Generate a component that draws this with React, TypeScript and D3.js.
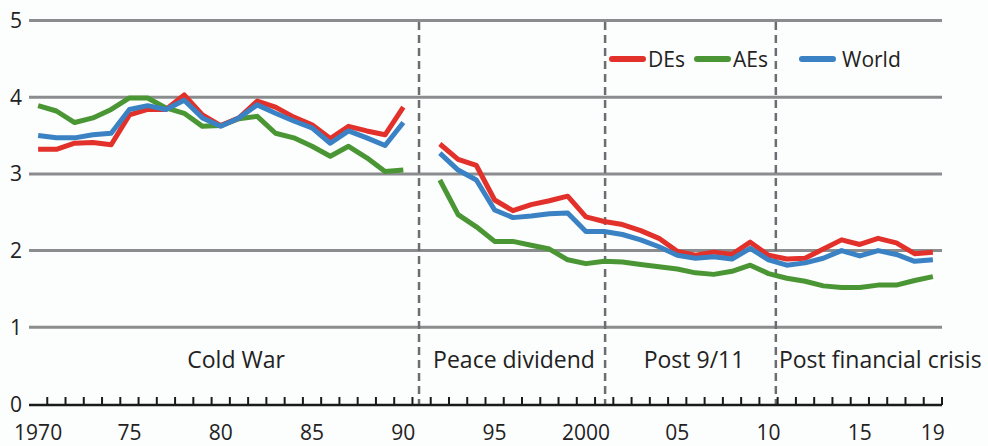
import React, { useEffect, useRef } from 'react';
import * as d3 from 'd3';

const W = 988;
const H = 446;

const YEARS = d3.range(1970, 2020);

// null = no data (1991)
const DES = [
  3.32, 3.32, 3.40, 3.41, 3.38, 3.77, 3.84, 3.84, 4.03, 3.77,
  3.63, 3.73, 3.95, 3.87, 3.74, 3.64, 3.46, 3.62, 3.56, 3.51,
  3.87, null, 3.39, 3.19, 3.11, 2.66, 2.52, 2.60, 2.65, 2.71,
  2.44, 2.38, 2.34, 2.26, 2.16, 1.99, 1.94, 1.98, 1.95, 2.11,
  1.94, 1.89, 1.90, 2.02, 2.14, 2.08, 2.16, 2.10, 1.96, 1.98,
];
const AES = [
  3.89, 3.82, 3.67, 3.73, 3.84, 3.99, 3.99, 3.86, 3.79, 3.62,
  3.63, 3.72, 3.75, 3.53, 3.47, 3.36, 3.23, 3.36, 3.21, 3.03,
  3.05, null, 2.92, 2.47, 2.31, 2.12, 2.12, 2.07, 2.02, 1.88,
  1.83, 1.86, 1.85, 1.82, 1.79, 1.76, 1.71, 1.69, 1.73, 1.81,
  1.70, 1.64, 1.60, 1.54, 1.52, 1.52, 1.55, 1.55, 1.61, 1.66,
];
const WORLD = [
  3.50, 3.47, 3.47, 3.51, 3.53, 3.84, 3.89, 3.84, 3.96, 3.73,
  3.62, 3.73, 3.90, 3.79, 3.69, 3.60, 3.40, 3.56, 3.47, 3.37,
  3.67, null, 3.27, 3.05, 2.92, 2.53, 2.43, 2.45, 2.48, 2.49,
  2.25, 2.25, 2.21, 2.14, 2.05, 1.94, 1.90, 1.92, 1.89, 2.03,
  1.88, 1.81, 1.84, 1.90, 2.00, 1.93, 2.00, 1.95, 1.86, 1.88,
];

const SERIES = [
  { name: 'DEs', values: DES, color: '#e2302a' },
  { name: 'AEs', values: AES, color: '#4b9634' },
  { name: 'World', values: WORLD, color: '#3a82c3' },
];
// drawing order: AEs under, then DEs, World on top
const DRAW_ORDER = ['AEs', 'DEs', 'World'];

const Y_TICKS = [0, 1, 2, 3, 4, 5];
const X_LABELS: [number, string][] = [
  [1970, '1970'], [1975, '75'], [1980, '80'], [1985, '85'], [1990, '90'],
  [1995, '95'], [2000, '2000'], [2005, '05'], [2010, '10'], [2015, '15'], [2019, '19'],
];

// period dividers (fractional year positions) and labels
const DIVIDERS = [1990.86, 2001.05, 2010.4];
const PERIODS: [string, number][] = [
  ['Cold War', 1980.84],
  ['Peace dividend', 1996.06],
  ['Post 9/11', 2005.92],
  ['Post financial crisis', 2016.12],
];

const FONT = '"Open Sans", "DejaVu Sans", sans-serif';

const App: React.FC = () => {
  const svgRef = useRef<SVGSVGElement | null>(null);

  useEffect(() => {
    if (!svgRef.current) return;
    const svg = d3.select(svgRef.current);
    svg.selectAll('*').remove();

    const left = 29;
    const right = 942;
    const band = (right - left) / YEARS.length;

    // year -> center of its band
    const x = d3
      .scaleLinear()
      .domain([1970, 2019])
      .range([left + band / 2, right - band / 2]);
    const y = d3.scaleLinear().domain([0, 5]).range([404, 20.5]);

    svg.append('rect').attr('width', W).attr('height', H).attr('fill', '#fcfdfd');

    // gridlines
    svg
      .append('g')
      .selectAll('line')
      .data(Y_TICKS.filter((d) => d > 0))
      .join('line')
      .attr('x1', left)
      .attr('x2', right)
      .attr('y1', (d) => y(d))
      .attr('y2', (d) => y(d))
      .attr('stroke', '#8a8c8e')
      .attr('stroke-width', 3);

    // y labels
    svg
      .append('g')
      .selectAll('text')
      .data(Y_TICKS)
      .join('text')
      .attr('x', 16)
      .attr('y', (d) => y(d))
      .attr('dy', '0.36em')
      .attr('text-anchor', 'middle')
      .attr('font-family', FONT)
      .attr('font-size', 21)
      .attr('fill', '#222')
      .text((d) => d);

    // dividers
    svg
      .append('g')
      .selectAll('line')
      .data(DIVIDERS)
      .join('line')
      .attr('x1', (d) => x(d))
      .attr('x2', (d) => x(d))
      .attr('y1', 22)
      .attr('y2', 404)
      .attr('stroke', '#6b6e70')
      .attr('stroke-width', 2.5)
      .attr('stroke-dasharray', '8 5');

    // period labels
    svg
      .append('g')
      .selectAll('text')
      .data(PERIODS)
      .join('text')
      .attr('x', (d) => x(d[1]))
      .attr('y', 368)
      .attr('text-anchor', 'middle')
      .attr('font-family', FONT)
      .attr('font-size', 23)
      .attr('fill', '#222')
      .text((d) => d[0]);

    // x axis baseline + ticks between years
    svg
      .append('line')
      .attr('x1', left)
      .attr('x2', right)
      .attr('y1', 405)
      .attr('y2', 405)
      .attr('stroke', '#1a1a1a')
      .attr('stroke-width', 2.5);
    svg
      .append('g')
      .selectAll('line')
      .data(d3.range(1, YEARS.length + 1))
      .join('line')
      .attr('x1', (i) => left + i * band)
      .attr('x2', (i) => left + i * band)
      .attr('y1', 397)
      .attr('y2', 405)
      .attr('stroke', '#1a1a1a')
      .attr('stroke-width', 2);

    svg
      .append('g')
      .selectAll('text')
      .data(X_LABELS)
      .join('text')
      .attr('x', (d) => x(d[0]))
      .attr('y', 440)
      .attr('text-anchor', 'middle')
      .attr('font-family', FONT)
      .attr('font-size', 21)
      .attr('fill', '#222')
      .text((d) => d[1]);

    // lines
    const line = d3
      .line<number | null>()
      .defined((d) => d !== null)
      .x((_, i) => x(YEARS[i]))
      .y((d) => y(d as number));

    DRAW_ORDER.forEach((name) => {
      const s = SERIES.find((d) => d.name === name)!;
      svg
        .append('path')
        .datum(s.values)
        .attr('fill', 'none')
        .attr('stroke', s.color)
        .attr('stroke-width', 5)
        .attr('stroke-linejoin', 'round')
        .attr('d', line);
    });

    // legend
    const legendX = [612, 697, 802];
    const legend = svg.append('g').selectAll('g').data(SERIES).join('g')
      .attr('transform', (_, i) => `translate(${legendX[i]},59)`);
    legend
      .append('line')
      .attr('x1', 0)
      .attr('x2', 31)
      .attr('stroke', (d) => d.color)
      .attr('stroke-width', 6)
      .attr('stroke-linecap', 'round');
    legend
      .append('text')
      .attr('x', (_, i) => (i === 2 ? 40 : 36))
      .attr('dy', '0.36em')
      .attr('font-family', FONT)
      .attr('font-size', 21)
      .attr('fill', '#222')
      .text((d) => d.name);
  }, []);

  return (
    <svg
      ref={svgRef}
      width={W}
      height={H}
      style={{ position: 'absolute', left: 0, top: 0 }}
    />
  );
};

export default App;
